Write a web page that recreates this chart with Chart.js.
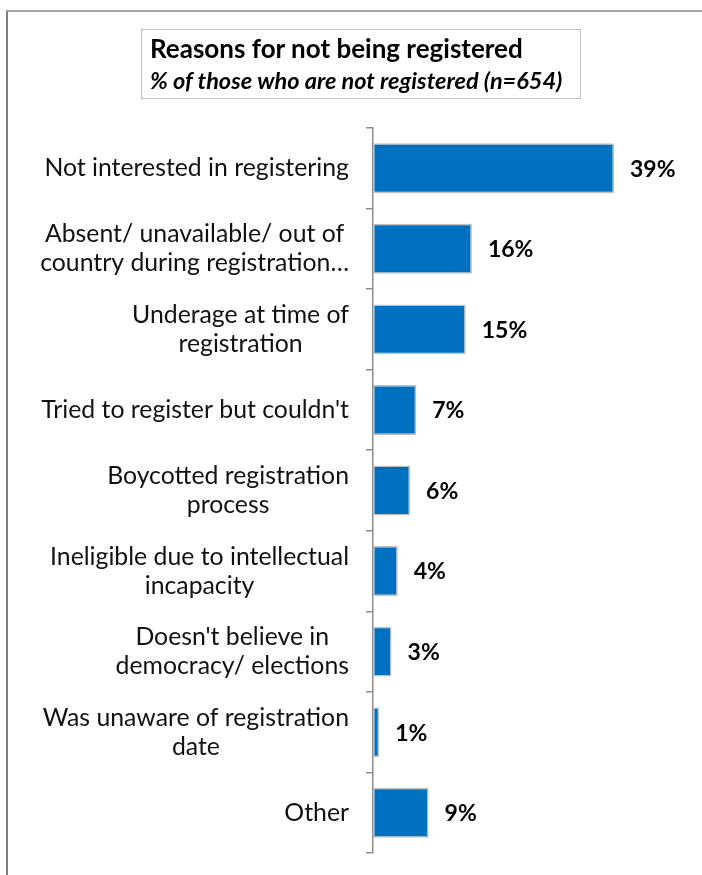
<!DOCTYPE html>
<html>
<head>
<meta charset="utf-8">
<script src="https://cdn.jsdelivr.net/npm/chart.js@4"></script>
<style>
  body { margin: 0; background: #fff; }
  #wrap { position: relative; width: 702px; height: 875px; overflow: hidden; }
  #frame {
    position: absolute; left: 6px; top: 10px; right: -10px; bottom: -10px;
    border-top: 2px solid #a6a6a6; border-left: 2px solid #808080;
  }
  #title-box {
    position: absolute; left: 141px; top: 29px; width: 430px; height: 68px;
    border: 1.5px solid #bfbfbf; padding: 0 0 0 8px;
    font-family: "Lato", sans-serif; color: #000;
  }
  #title-box .main { font-size: 26px; font-weight: bold; margin-top: 2px; line-height: 33px; }
  #title-box .sub { font-size: 23.5px; font-weight: bold; font-style: italic; line-height: 30px; }
  canvas { position: absolute; left: 0; top: 0; }
</style>
</head>
<body>
<div id="wrap">
  <div id="frame"></div>
  <canvas id="reasons-chart" width="702" height="875"></canvas>
  <div id="title-box">
    <div class="main">Reasons for not being registered</div>
    <div class="sub">% of those who are not registered (n=654)</div>
  </div>
</div>
<script>
const reasons = [
    "Not interested in registering",
    ["Absent/ unavailable/ out of", "country during registration…"],
    ["Underage at time of", "registration"],
    "Tried to register but couldn't",
    ["Boycotted registration", "process"],
    ["Ineligible due to intellectual", "incapacity"],
    ["Doesn't believe in", "democracy/ elections"],
    ["Was unaware of registration", "date"],
    "Other"
];
const percentages = [39, 16, 15, 7, 6, 4, 3, 1, 9];

const labelFont = "24.8px Lato";
const lineHeight = 29;

// category names: each block right-aligned against the axis, lines centred inside it
const categoryLabels = {
    id: "categoryLabels",
    afterDraw(chart) {
        const ctx = chart.ctx;
        const yScale = chart.scales.y;
        const right = yScale.right - 24;
        ctx.save();
        ctx.font = labelFont;
        ctx.fillStyle = "#111";
        ctx.textAlign = "center";
        ctx.textBaseline = "middle";
        reasons.forEach((label, i) => {
            const lines = Array.isArray(label) ? label : [label];
            const widest = Math.max(...lines.map(l => ctx.measureText(l).width));
            const cx = right - widest / 2;
            const cy = yScale.getPixelForValue(i);
            lines.forEach((line, j) => {
                ctx.fillText(line, cx, cy + (j - (lines.length - 1) / 2) * lineHeight);
            });
        });
        ctx.restore();
    }
};

// value labels to the right of each bar
const barLabels = {
    id: "barLabels",
    afterDatasetsDraw(chart) {
        const ctx = chart.ctx;
        const meta = chart.getDatasetMeta(0);
        ctx.save();
        ctx.font = "bold 23px Lato";
        ctx.fillStyle = "#000";
        ctx.textBaseline = "middle";
        ctx.textAlign = "left";
        meta.data.forEach((bar, i) => {
            ctx.fillText(percentages[i] + "%", bar.x + 16, bar.y + 1);
        });
        ctx.restore();
    }
};

const ctx = document.getElementById("reasons-chart").getContext("2d");
new Chart(ctx, {
    type: "bar",
    data: {
        labels: reasons,
        datasets: [{
            data: percentages,
            backgroundColor: "#0070c0",
            borderColor: "#bfbfbf",
            borderWidth: 1.5,
            borderSkipped: false,
            barPercentage: 0.62,
            categoryPercentage: 1
        }]
    },
    options: {
        indexAxis: "y",
        responsive: false,
        animation: false,
        layout: { padding: { top: 128, bottom: 22, right: 20, left: 0 } },
        plugins: { legend: { display: false }, tooltip: { enabled: false } },
        scales: {
            x: { display: false, min: 0, max: 50 },
            y: {
                afterFit: (scale) => { scale.width = 373; },
                border: { color: "#8c8c8c", width: 1.5 },
                grid: { drawOnChartArea: false, tickLength: 7, color: "#8c8c8c", lineWidth: 1.5 },
                ticks: { display: false }
            }
        }
    },
    plugins: [barLabels, categoryLabels]
});
</script>
</body>
</html>
